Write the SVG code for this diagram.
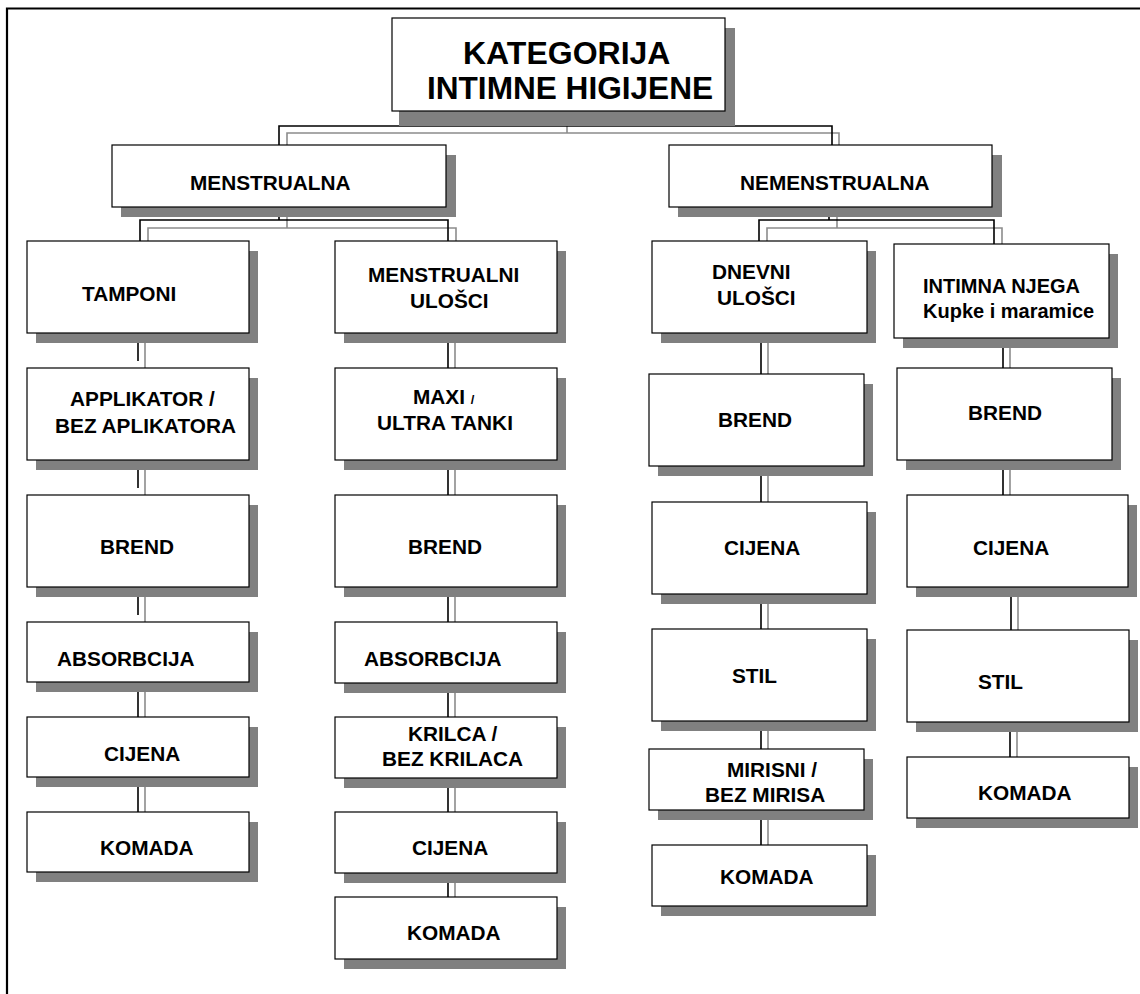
<svg xmlns="http://www.w3.org/2000/svg" width="1140" height="994" viewBox="0 0 1140 994">
  <style>
    .shadow { fill: #808080; }
    .box { fill: #ffffff; stroke: #000000; stroke-width: 1.2; }
    .lbl { font-family: "Liberation Sans", Arial, sans-serif; font-weight: bold; font-size: 20.8px; fill: #000000; }
    .sm { font-size: 20px; }
    .title { font-size: 32px; }
    .blk { stroke: #000000; stroke-width: 1.6; fill: none; }
    .gry { stroke: #8c8c8c; stroke-width: 1.6; fill: none; }
    .frame { stroke: #000000; stroke-width: 2.2; fill: none; }
  </style>
  <rect width="1140" height="994" fill="#ffffff"/>
  <!-- page frame (top and left edges) -->
  <path class="frame" d="M7,994 V8.5 H1140"/>

  <!-- connectors -->
  <g id="connectors">
    <!-- root to level 1 -->
    <path class="gry" d="M567,121 V133 M287,145 V133 H839 V145"/>
    <path class="blk" d="M560,111 V126 M279,145 V126 H832 V145"/>
    <!-- MENSTRUALNA to its children -->
    <path class="gry" d="M287,217 V228 M148,241 V228 H456 V241"/>
    <path class="blk" d="M279,207 V220 M140,241 V220 H448 V241"/>
    <!-- NEMENSTRUALNA to its children -->
    <path class="gry" d="M837,217 V228 M767,241 V228 H1002 V244"/>
    <path class="blk" d="M829,207 V220 M759,241 V220 H994 V244"/>
    <!-- column 1 -->
    <path class="gry" d="M145,343 V368 M145,470 V495 M145,597 V622 M145,692 V717 M145,787 V812"/>
    <path class="blk" d="M138,336 V361 M138,463 V488 M138,590 V615 M138,682 V717 M138,777 V812"/>
    <!-- column 2 -->
    <path class="gry" d="M455,343 V368 M455,470 V495 M455,597 V622 M455,693 V717 M455,788 V812 M455,883 V897"/>
    <path class="blk" d="M448,333 V368 M448,460 V495 M448,587 V622 M448,683 V717 M448,778 V812 M448,873 V897"/>
    <!-- column 3 -->
    <path class="gry" d="M768,343 V374 M768,476 V502 M768,604 V629 M768,731 V749 M768,820 V845"/>
    <path class="blk" d="M761,333 V374 M761,466 V502 M761,594 V629 M761,721 V749 M761,810 V845"/>
    <!-- column 4 -->
    <path class="gry" d="M1010,348 V368 M1010,470 V495 M1018,597 V630 M1017,732 V757"/>
    <path class="blk" d="M1003,338 V368 M1003,460 V495 M1011,587 V630 M1010,722 V757"/>
  </g>

  <!-- root -->
  <g id="n-root">
    <rect class="shadow" x="399" y="28" width="336" height="98"/>
    <rect class="box" x="392" y="18" width="333" height="93"/>
    <text class="lbl title" x="463" y="64">KATEGORIJA</text>
    <text class="lbl title" x="427" y="99" textLength="286" lengthAdjust="spacingAndGlyphs">INTIMNE HIGIJENE</text>
  </g>

  <!-- level 1 -->
  <g id="n-menstrualna">
    <rect class="shadow" x="121" y="155" width="335" height="62"/>
    <rect class="box" x="112" y="145" width="334" height="62"/>
    <text class="lbl" x="190" y="190">MENSTRUALNA</text>
  </g>
  <g id="n-nemenstrualna">
    <rect class="shadow" x="678" y="155" width="324" height="62"/>
    <rect class="box" x="669" y="145" width="323" height="62"/>
    <text class="lbl" x="740" y="190">NEMENSTRUALNA</text>
  </g>

  <!-- column 1: TAMPONI -->
  <g id="n-tamponi">
    <rect class="shadow" x="36" y="251" width="222" height="92"/>
    <rect class="box" x="27" y="241" width="222" height="92"/>
    <text class="lbl" x="82" y="301">TAMPONI</text>
  </g>
  <g id="n-aplikator">
    <rect class="shadow" x="36" y="378" width="222" height="92"/>
    <rect class="box" x="27" y="368" width="222" height="92"/>
    <text class="lbl" x="70" y="406">APPLIKATOR /</text>
    <text class="lbl" x="55" y="433">BEZ APLIKATORA</text>
  </g>
  <g id="n-brend-1">
    <rect class="shadow" x="36" y="505" width="222" height="92"/>
    <rect class="box" x="27" y="495" width="222" height="92"/>
    <text class="lbl" x="100" y="554">BREND</text>
  </g>
  <g id="n-absorbcija-1">
    <rect class="shadow" x="36" y="632" width="222" height="60"/>
    <rect class="box" x="27" y="622" width="222" height="60"/>
    <text class="lbl" x="57" y="666">ABSORBCIJA</text>
  </g>
  <g id="n-cijena-1">
    <rect class="shadow" x="36" y="727" width="222" height="60"/>
    <rect class="box" x="27" y="717" width="222" height="60"/>
    <text class="lbl" x="104" y="761">CIJENA</text>
  </g>
  <g id="n-komada-1">
    <rect class="shadow" x="36" y="822" width="222" height="60"/>
    <rect class="box" x="27" y="812" width="222" height="60"/>
    <text class="lbl" x="100" y="855">KOMADA</text>
  </g>

  <!-- column 2: MENSTRUALNI ULOŠCI -->
  <g id="n-menstrualni-ulosci">
    <rect class="shadow" x="344" y="251" width="222" height="92"/>
    <rect class="box" x="335" y="241" width="222" height="92"/>
    <text class="lbl" x="368" y="282">MENSTRUALNI</text>
    <text class="lbl" x="410" y="308">ULOŠCI</text>
  </g>
  <g id="n-maxi">
    <rect class="shadow" x="344" y="378" width="222" height="92"/>
    <rect class="box" x="335" y="368" width="222" height="92"/>
    <text class="lbl" x="413" y="404">MAXI <tspan font-size="13">/</tspan></text>
    <text class="lbl" x="377" y="430">ULTRA TANKI</text>
  </g>
  <g id="n-brend-2">
    <rect class="shadow" x="344" y="505" width="222" height="92"/>
    <rect class="box" x="335" y="495" width="222" height="92"/>
    <text class="lbl" x="408" y="554">BREND</text>
  </g>
  <g id="n-absorbcija-2">
    <rect class="shadow" x="344" y="632" width="222" height="61"/>
    <rect class="box" x="335" y="622" width="222" height="61"/>
    <text class="lbl" x="364" y="666">ABSORBCIJA</text>
  </g>
  <g id="n-krilca">
    <rect class="shadow" x="344" y="727" width="222" height="61"/>
    <rect class="box" x="335" y="717" width="222" height="61"/>
    <text class="lbl" x="408" y="741">KRILCA /</text>
    <text class="lbl" x="382" y="766">BEZ KRILACA</text>
  </g>
  <g id="n-cijena-2">
    <rect class="shadow" x="344" y="822" width="222" height="61"/>
    <rect class="box" x="335" y="812" width="222" height="61"/>
    <text class="lbl" x="412" y="855">CIJENA</text>
  </g>
  <g id="n-komada-2">
    <rect class="shadow" x="344" y="907" width="222" height="62"/>
    <rect class="box" x="335" y="897" width="222" height="62"/>
    <text class="lbl" x="407" y="940">KOMADA</text>
  </g>

  <!-- column 3: DNEVNI ULOŠCI -->
  <g id="n-dnevni-ulosci">
    <rect class="shadow" x="661" y="251" width="215" height="92"/>
    <rect class="box" x="652" y="241" width="215" height="92"/>
    <text class="lbl" x="712" y="279">DNEVNI</text>
    <text class="lbl" x="717" y="305">ULOŠCI</text>
  </g>
  <g id="n-brend-3">
    <rect class="shadow" x="658" y="384" width="215" height="92"/>
    <rect class="box" x="649" y="374" width="215" height="92"/>
    <text class="lbl" x="718" y="427">BREND</text>
  </g>
  <g id="n-cijena-3">
    <rect class="shadow" x="661" y="512" width="215" height="92"/>
    <rect class="box" x="652" y="502" width="215" height="92"/>
    <text class="lbl" x="724" y="555">CIJENA</text>
  </g>
  <g id="n-stil-3">
    <rect class="shadow" x="661" y="639" width="215" height="92"/>
    <rect class="box" x="652" y="629" width="215" height="92"/>
    <text class="lbl" x="732" y="683">STIL</text>
  </g>
  <g id="n-mirisni">
    <rect class="shadow" x="658" y="759" width="215" height="61"/>
    <rect class="box" x="649" y="749" width="215" height="61"/>
    <text class="lbl" x="727" y="777">MIRISNI /</text>
    <text class="lbl" x="705" y="802">BEZ MIRISA</text>
  </g>
  <g id="n-komada-3">
    <rect class="shadow" x="661" y="855" width="215" height="61"/>
    <rect class="box" x="652" y="845" width="215" height="61"/>
    <text class="lbl" x="720" y="884">KOMADA</text>
  </g>

  <!-- column 4: INTIMNA NJEGA -->
  <g id="n-intimna-njega">
    <rect class="shadow" x="903" y="254" width="215" height="94"/>
    <rect class="box" x="894" y="244" width="215" height="94"/>
    <text class="lbl sm" x="923" y="293">INTIMNA NJEGA</text>
    <text class="lbl sm" x="923" y="318">Kupke i maramice</text>
  </g>
  <g id="n-brend-4">
    <rect class="shadow" x="906" y="378" width="215" height="92"/>
    <rect class="box" x="897" y="368" width="215" height="92"/>
    <text class="lbl" x="968" y="420">BREND</text>
  </g>
  <g id="n-cijena-4">
    <rect class="shadow" x="916" y="505" width="221" height="92"/>
    <rect class="box" x="907" y="495" width="221" height="92"/>
    <text class="lbl" x="973" y="555">CIJENA</text>
  </g>
  <g id="n-stil-4">
    <rect class="shadow" x="916" y="640" width="222" height="92"/>
    <rect class="box" x="907" y="630" width="222" height="92"/>
    <text class="lbl" x="978" y="689">STIL</text>
  </g>
  <g id="n-komada-4">
    <rect class="shadow" x="916" y="767" width="222" height="61"/>
    <rect class="box" x="907" y="757" width="222" height="61"/>
    <text class="lbl" x="978" y="800">KOMADA</text>
  </g>
</svg>
